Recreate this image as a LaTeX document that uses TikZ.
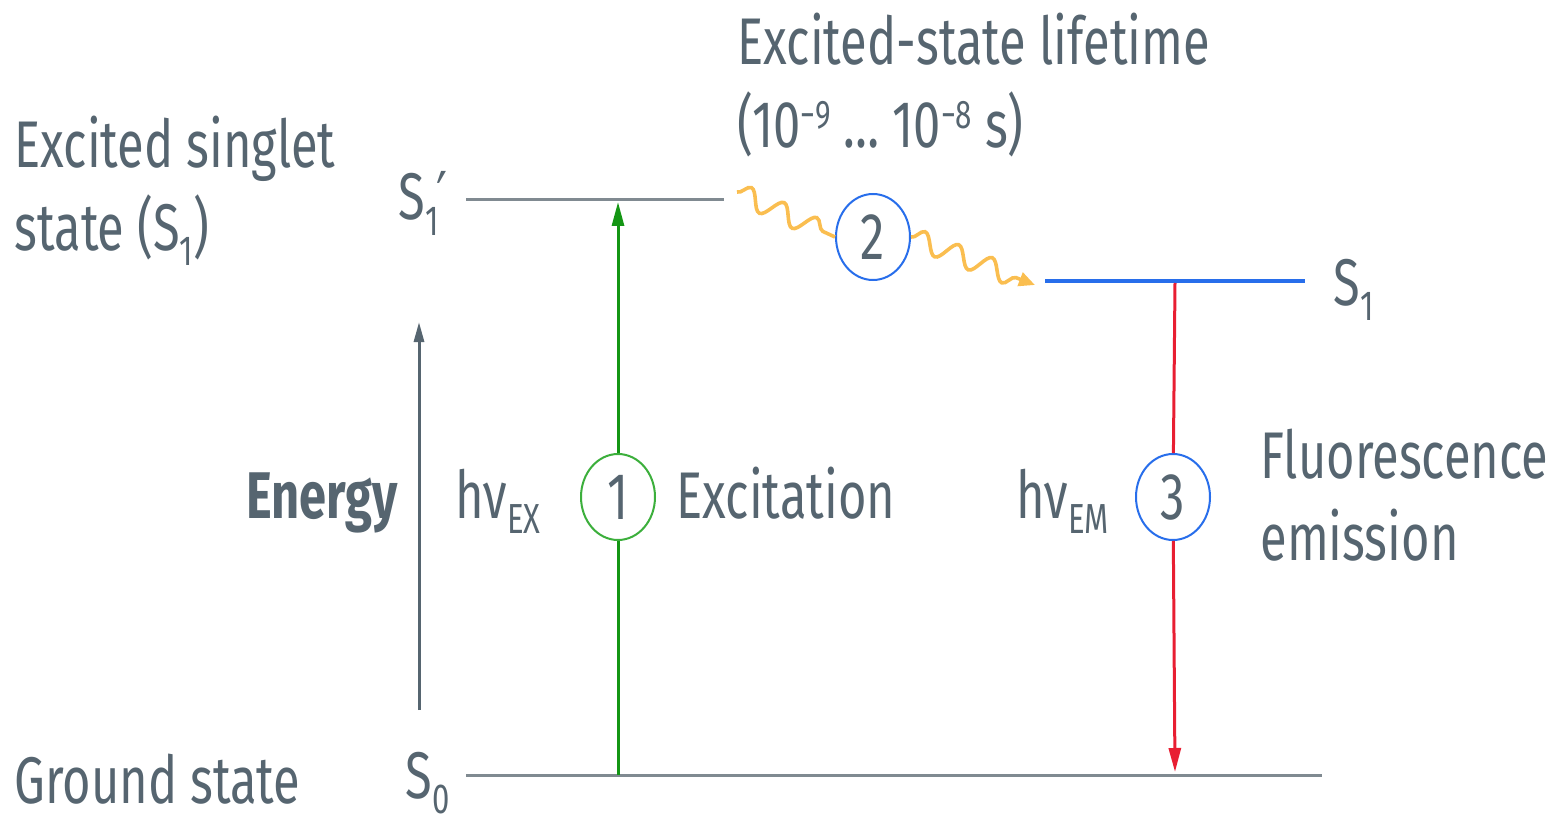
\documentclass[tikz,border=0pt]{standalone}
\usepackage{fontspec}
\setmainfont[FakeStretch=0.74]{Fira Sans}
\newfontfamily\primefont[FakeStretch=0.74]{DejaVu Sans}
\usepackage{graphicx}
\usetikzlibrary{shapes,arrows.meta,positioning,decorations.pathmorphing}
\definecolor{txtgray}{RGB}{86,101,112}
\definecolor{linegray}{RGB}{128,138,145}
\definecolor{exgreen}{RGB}{20,150,20}
\definecolor{ringgreen}{RGB}{60,175,60}
\definecolor{emblue}{RGB}{40,110,235}
\definecolor{emred}{RGB}{232,30,50}
\definecolor{waveorange}{RGB}{250,190,80}
\newcommand\bigfont{\fontsize{33}{40}\selectfont}
\newcommand\lowsub[1]{\raisebox{-0.24em}{\fontsize{21}{21}\selectfont #1}}
\newcommand\highsup[1]{\raisebox{0.3em}{\fontsize{20}{20}\selectfont #1}}

\begin{document}
\begin{tikzpicture}[
    x=0.5pt, y=-0.5pt,
    lbl/.style={font=\bigfont, text=txtgray, inner sep=0pt, anchor=base west},
    level/.style={draw=linegray, line width=1.5pt},
    num/.style={ellipse, draw, line width=1pt, minimum width=37pt, minimum height=43pt, inner sep=0pt, fill=white, font=\bigfont, text=txtgray},
    photon/.style={line width=1.5pt, -{Triangle[length=12pt,width=6pt]}},
    wave/.style={draw=waveorange, line width=1.8pt, decorate, decoration={snake, amplitude=5pt, segment length=18pt, post length=4pt}}
  ]
    \useasboundingbox (0,0) rectangle (1565,824);

    % state labels on the left
    \node[lbl] (singlet) at (14,168) {Excited singlet};
    \node[lbl] (singletb) at (14,250) {state (S\lowsub{1})};
    \node[lbl] (ground) at (14,803) {Ground state};

    % energy levels
    \coordinate (s1pL) at (466,200);
    \coordinate (s1pR) at (724,200);
    \coordinate (s1L) at (1045,281);
    \coordinate (s1R) at (1305,281);
    \coordinate (s0L) at (466,775);
    \coordinate (s0R) at (1322,775);
    \draw[level] (s1pL) -- (s1pR);
    \draw[level, draw=emblue, line width=2pt] (s1L) -- (s1R);
    \draw[level] (s0L) -- (s0R);

    \node[lbl] (s1plbl) at (398,220) {S\lowsub{1}\kern-1pt{\primefont ′}};
    \node[lbl] (s1lbl) at (1333,305) {S\lowsub{1}};
    \node[lbl] (s0lbl) at (405,798) {S\lowsub{0}};

    % energy axis
    \coordinate (enB) at (419,710);
    \coordinate (enT) at (419,322);
    \draw[draw=txtgray, line width=1.5pt, -{Triangle[length=10pt,width=5pt]}] (enB) -- (enT);
    \node[lbl, anchor=base east, font=\bigfont\bfseries] (energy) at (398,518) {Energy};

    % 1: excitation
    \coordinate (exB) at (618,775);
    \coordinate (exT) at (618,202);
    \node[num, draw=ringgreen] (one) at (618,497) {1};
    \draw[photon, draw=exgreen, -] (exB) -- (one);
    \draw[photon, draw=exgreen] (one) -- (exT);
    \node[lbl] (hvex) at (455,518) {hν\lowsub{EX}};
    \node[lbl] (excit) at (676,518) {Excitation};

    % 2: relaxation
    \coordinate (wvA) at (737,192);
    \coordinate (wvB) at (1035,285);
    \node[num, draw=emblue] (two) at (873,237) {2};
    \draw[wave] (wvA) -- (two.west);
    \draw[wave, -{Triangle[length=8pt,width=7pt]}] (two.east) -- (wvB);
    \node[lbl] (life) at (737,65) {Excited-state lifetime};
    \node[lbl] (lifeb) at (737,148) {(10\highsup{−9} … 10\highsup{−8} s)};

    % 3: emission
    \coordinate (emT) at (1175,283);
    \coordinate (emB) at (1175,772);
    \node[num, draw=emblue] (three) at (1173,497) {3};
    \draw[photon, draw=emred, -] (emT) -- (three);
    \draw[photon, draw=emred] (three) -- (emB);
    \node[lbl] (hvem) at (1016,518) {hν\lowsub{EM}};
    \node[lbl] (fluor) at (1260,478) {Fluorescence};
    \node[lbl] (fluorb) at (1260,560) {emission};
  \end{tikzpicture}
\end{document}
